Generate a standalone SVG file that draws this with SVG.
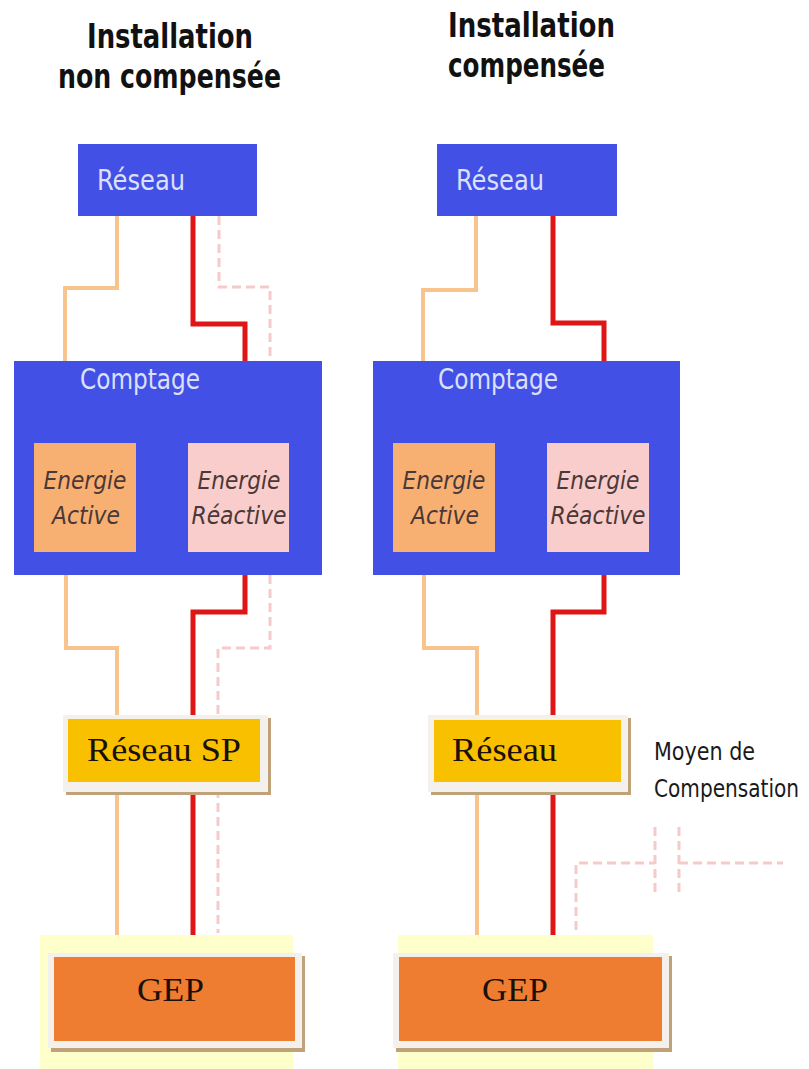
<svg xmlns="http://www.w3.org/2000/svg" width="809" height="1069" viewBox="0 0 809 1069">
<style>
.title{font-family:"DejaVu Sans Condensed","DejaVu Sans",sans-serif;font-weight:bold;font-size:33px;fill:#111}
.blue{fill:#4250E6}
.wt{font-family:"DejaVu Sans Condensed","DejaVu Sans",sans-serif;font-size:28px;fill:#DCE0FA}
.en{font-family:"DejaVu Sans",sans-serif;font-style:italic;font-size:24px;fill:#4A3838;text-anchor:middle}
.act{fill:#F8B072}
.rea{fill:#F9CDCC}
.serif{font-family:"Liberation Serif","Times New Roman",serif;font-size:33px;fill:#1A1008}
.frame{fill:#F4F0EC}
.shadow{fill:#BFA27A}
.gold{fill:#F9C000}
.gep{fill:#EE7D31}
.ybg{fill:#FFFFCC}
.lbl{font-family:"DejaVu Sans Condensed","DejaVu Sans",sans-serif;font-size:24px;fill:#1A1A1A}
.or{fill:none;stroke:#F6C48C;stroke-width:4}
.rd{fill:none;stroke:#E01616;stroke-width:5}
.pk{fill:none;stroke:#F7CACA;stroke-width:3;stroke-dasharray:9 5}
</style>
<rect width="809" height="1069" fill="#FFFFFF"/>
<g id="titles">
<text class="title" x="87" y="48" textLength="166" lengthAdjust="spacingAndGlyphs">Installation</text>
<text class="title" x="58" y="88" textLength="223" lengthAdjust="spacingAndGlyphs">non compensée</text>
<text class="title" x="448" y="37" textLength="167" lengthAdjust="spacingAndGlyphs">Installation</text>
<text class="title" x="448" y="77" textLength="157" lengthAdjust="spacingAndGlyphs">compensée</text>
</g>
<g id="gep-backgrounds">
<rect class="ybg" x="40" y="935" width="253" height="134"/>
<rect class="ybg" x="398" y="935" width="255" height="134"/>
</g>
<g id="connectors">
<polyline class="or" points="117,216 117,288 65,288 65,362"/>
<polyline class="rd" points="193,216 193,324 245,324 245,362"/>
<polyline class="pk" points="219,216 219,287 270,287 270,362"/>
<polyline class="or" points="66,575 66,648 117,648 117,935"/>
<polyline class="rd" points="245,575 245,612 193,612 193,935"/>
<polyline class="pk" points="270,575 270,648 218,648 218,933"/>
<polyline class="or" points="476,216 476,290 423,290 423,362"/>
<polyline class="rd" points="553,216 553,323 604,323 604,362"/>
<polyline class="or" points="424,575 424,648 477,648 477,935"/>
<polyline class="rd" points="604,575 604,612 553,612 553,935"/>
<polyline class="pk" points="576,930 576,863 655,863"/>
<line class="pk" x1="655" y1="827" x2="655" y2="893"/>
<line class="pk" x1="679" y1="827" x2="679" y2="893"/>
<line class="pk" x1="679" y1="863" x2="783" y2="863"/>
</g>
<g id="reseau-left">
<rect class="blue" x="78" y="144" width="179" height="72"/>
<text class="wt" x="97" y="190" textLength="88" lengthAdjust="spacingAndGlyphs">Réseau</text>
</g>
<g id="reseau-right">
<rect class="blue" x="437" y="144" width="180" height="72"/>
<text class="wt" x="456" y="190" textLength="88" lengthAdjust="spacingAndGlyphs">Réseau</text>
</g>
<g id="comptage-left">
<rect class="blue" x="14" y="361" width="308" height="214"/>
<text class="wt" x="80" y="389" textLength="120" lengthAdjust="spacingAndGlyphs">Comptage</text>
<rect class="act" x="34" y="443" width="102" height="109"/>
<text class="en" x="85" y="489" textLength="83" lengthAdjust="spacingAndGlyphs">Energie</text>
<text class="en" x="86" y="524" textLength="68" lengthAdjust="spacingAndGlyphs">Active</text>
<rect class="rea" x="188" y="443" width="101" height="109"/>
<text class="en" x="239" y="489" textLength="83" lengthAdjust="spacingAndGlyphs">Energie</text>
<text class="en" x="239" y="524" textLength="95" lengthAdjust="spacingAndGlyphs">Réactive</text>
</g>
<g id="comptage-right">
<rect class="blue" x="373" y="361" width="307" height="214"/>
<text class="wt" x="438" y="389" textLength="120" lengthAdjust="spacingAndGlyphs">Comptage</text>
<rect class="act" x="393" y="443" width="102" height="109"/>
<text class="en" x="444" y="489" textLength="83" lengthAdjust="spacingAndGlyphs">Energie</text>
<text class="en" x="445" y="524" textLength="68" lengthAdjust="spacingAndGlyphs">Active</text>
<rect class="rea" x="547" y="443" width="102" height="109"/>
<text class="en" x="598" y="489" textLength="83" lengthAdjust="spacingAndGlyphs">Energie</text>
<text class="en" x="598" y="524" textLength="95" lengthAdjust="spacingAndGlyphs">Réactive</text>
</g>
<g id="reseau-sp">
<rect class="shadow" x="66" y="718" width="205" height="77"/>
<rect class="frame" x="63" y="715" width="205" height="77"/>
<rect class="gold" x="68" y="719" width="192" height="63"/>
<text class="serif" x="87" y="761" textLength="154" lengthAdjust="spacingAndGlyphs">Réseau SP</text>
</g>
<g id="reseau-comp">
<rect class="shadow" x="431" y="718" width="200" height="77"/>
<rect class="frame" x="428" y="715" width="200" height="77"/>
<rect class="gold" x="434" y="720" width="187" height="62"/>
<text class="serif" x="452" y="761" textLength="105" lengthAdjust="spacingAndGlyphs">Réseau</text>
</g>
<g id="moyen-compensation">
<text class="lbl" x="654" y="760" textLength="101" lengthAdjust="spacingAndGlyphs">Moyen de</text>
<text class="lbl" x="654" y="797" textLength="145" lengthAdjust="spacingAndGlyphs">Compensation</text>
</g>
<g id="gep-left">
<rect class="shadow" x="51" y="956" width="254" height="96"/>
<rect class="frame" x="48" y="953" width="254" height="95"/>
<rect class="gep" x="54" y="957" width="241" height="84"/>
<text class="serif" x="137" y="1001" textLength="67" lengthAdjust="spacingAndGlyphs">GEP</text>
</g>
<g id="gep-right">
<rect class="shadow" x="396" y="956" width="276" height="96"/>
<rect class="frame" x="393" y="953" width="276" height="95"/>
<rect class="gep" x="399" y="957" width="263" height="84"/>
<text class="serif" x="482" y="1001" textLength="66" lengthAdjust="spacingAndGlyphs">GEP</text>
</g>
</svg>
